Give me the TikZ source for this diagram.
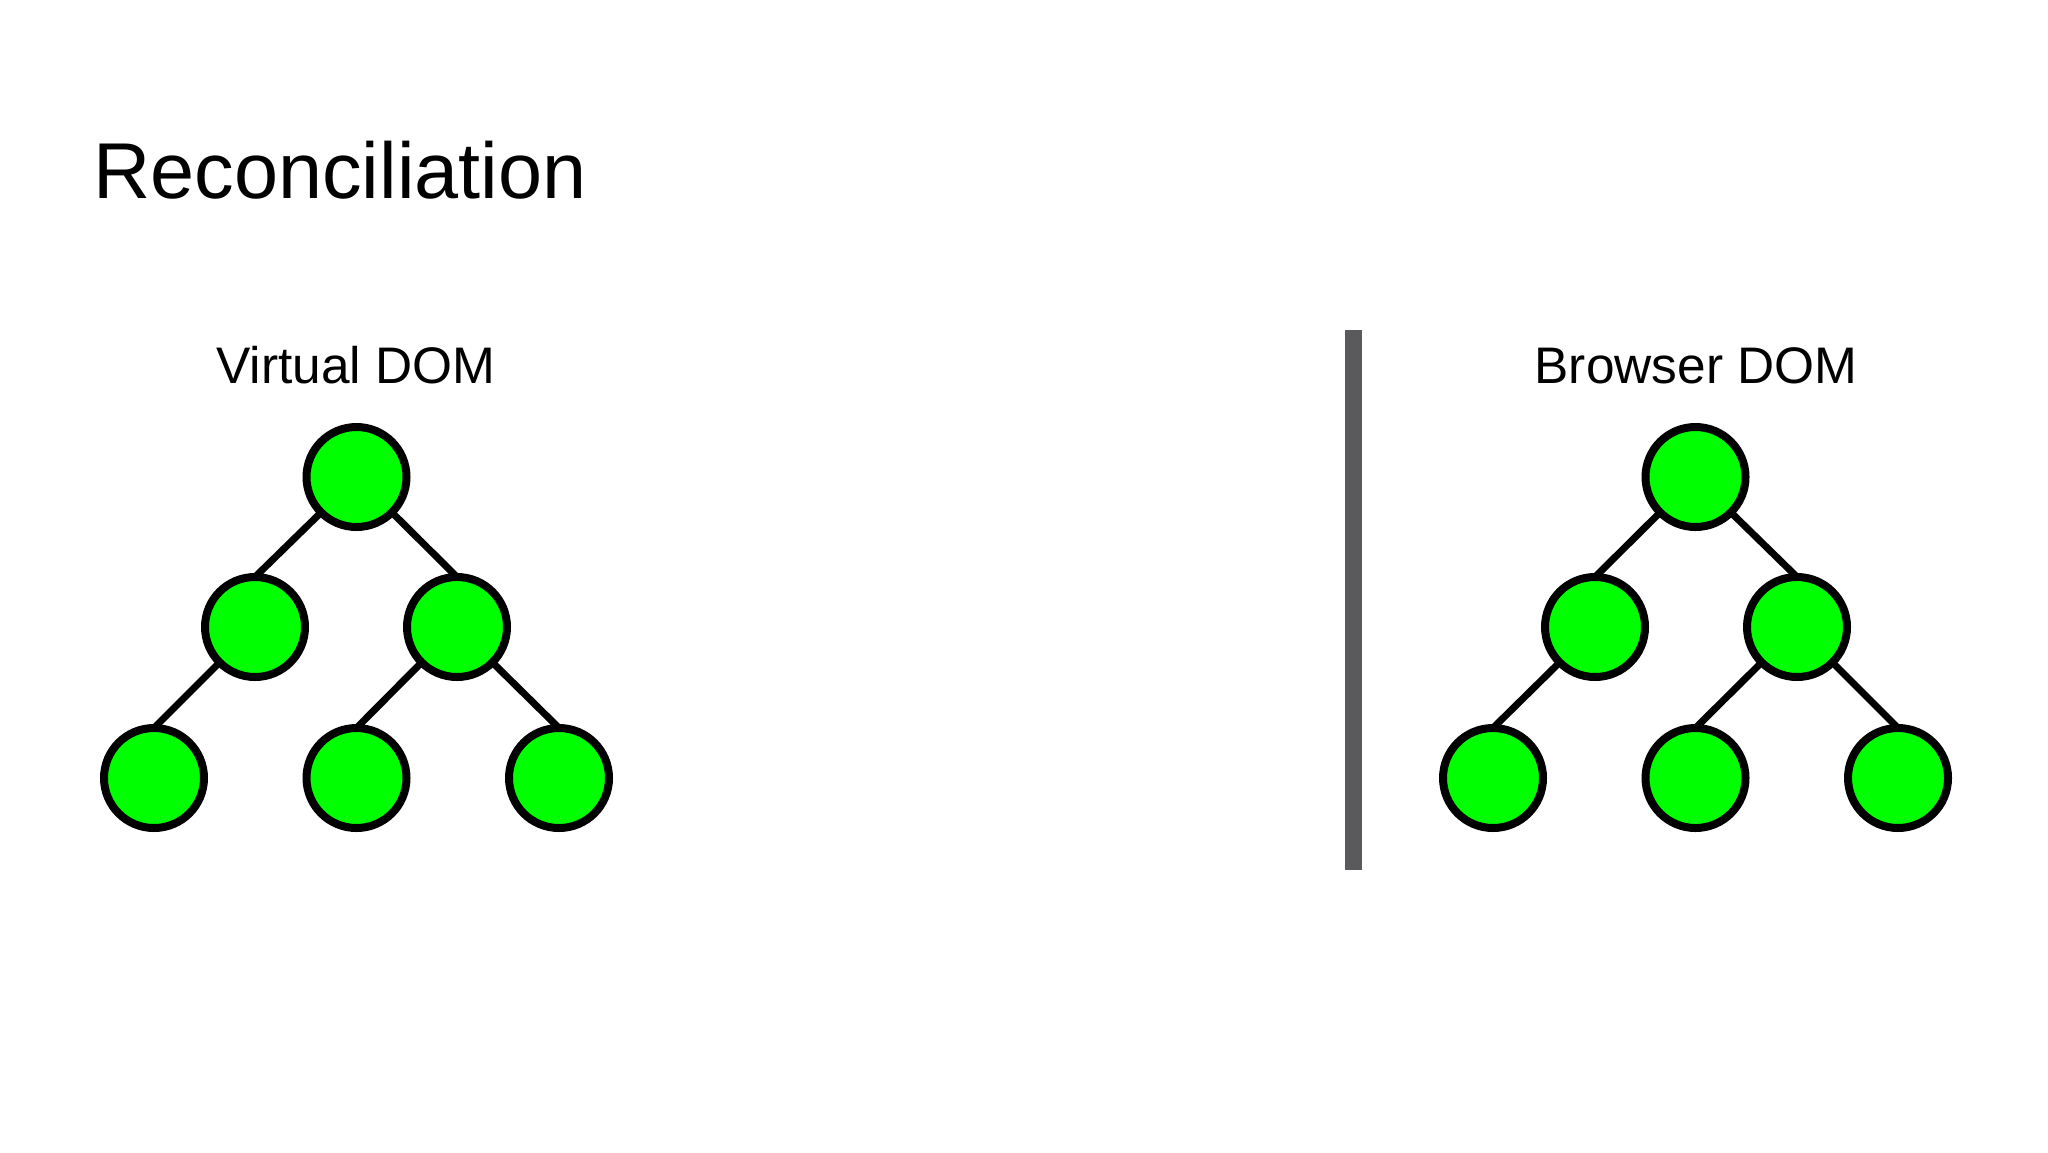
\documentclass[tikz,border=0pt]{standalone}
\usepackage{fontspec}
\setmainfont{Liberation Sans}
\definecolor{nodegreen}{RGB}{0,255,0}
\definecolor{bargray}{RGB}{90,90,92}
\begin{document}
\begin{tikzpicture}[x=0.5pt,y=-0.5pt,
  treenode/.style={circle,draw=black,fill=nodegreen,line width=4pt,minimum size=50pt,inner sep=0pt,outer sep=0pt},
  treeedge/.style={draw=black,line width=3.5pt},
  heading/.style={anchor=base west,inner sep=0pt,font=\fontsize{39.6pt}{48pt}\selectfont},
  sublabel/.style={anchor=base,inner sep=0pt,font=\fontsize{25.7pt}{30pt}\selectfont}]
\useasboundingbox[fill=white] (0,0) rectangle (2048,1152);
\node[heading] (title) at (93,198) {Reconciliation};
% divider
\fill[bargray] (1345,330) rectangle (1362,870);
% left tree
\node[sublabel] (vlabel) at (356,383) {Virtual DOM};
\node[treenode] (v1) at (356.5,477) {};
\node[treenode] (v2) at (255,627) {};
\node[treenode] (v3) at (457,627) {};
\node[treenode] (v4) at (154,778) {};
\node[treenode] (v5) at (356.5,778) {};
\node[treenode] (v6) at (559,778) {};
\draw[treeedge] (v1.south west) -- (v2.north);
\draw[treeedge] (v1.south east) -- (v3.north);
\draw[treeedge] (v2.south west) -- (v4.north);
\draw[treeedge] (v3.south west) -- (v5.north);
\draw[treeedge] (v3.south east) -- (v6.north);
% right tree
\node[sublabel] (blabel) at (1696,383) {Browser DOM};
\node[treenode] (b1) at (1695.5,477) {};
\node[treenode] (b2) at (1595,627) {};
\node[treenode] (b3) at (1797,627) {};
\node[treenode] (b4) at (1493,778) {};
\node[treenode] (b5) at (1695.5,778) {};
\node[treenode] (b6) at (1898,778) {};
\draw[treeedge] (b1.south west) -- (b2.north);
\draw[treeedge] (b1.south east) -- (b3.north);
\draw[treeedge] (b2.south west) -- (b4.north);
\draw[treeedge] (b3.south west) -- (b5.north);
\draw[treeedge] (b3.south east) -- (b6.north);
\end{tikzpicture}
\end{document}
